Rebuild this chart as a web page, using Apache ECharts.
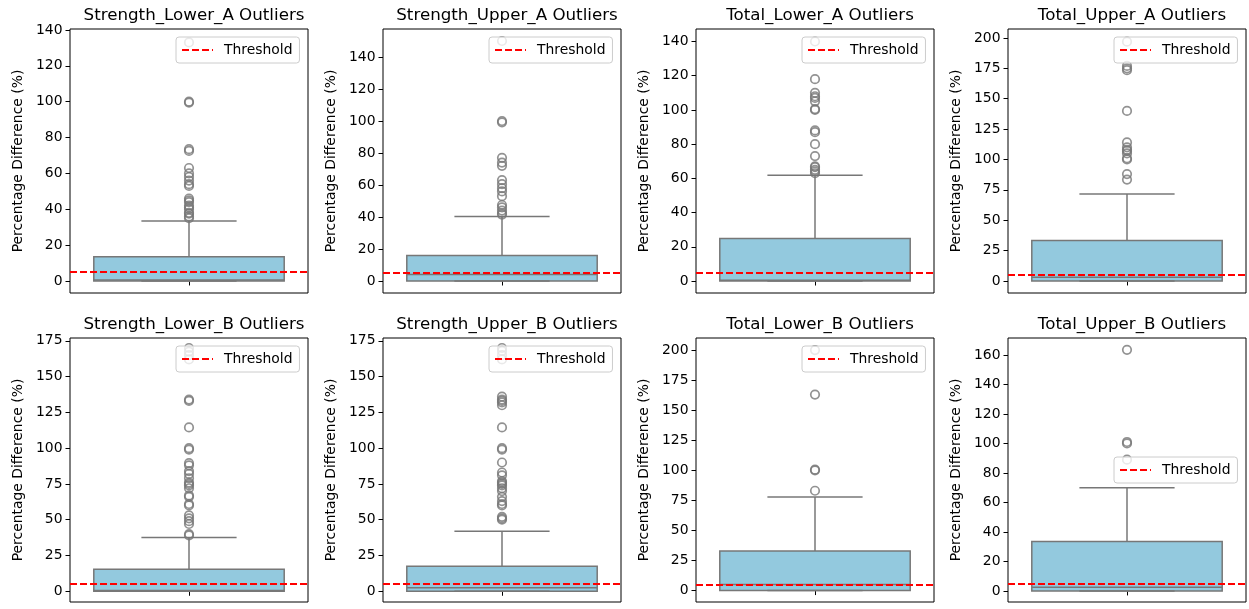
<!DOCTYPE html>
<html>
<head>
<meta charset="utf-8">
<script src="https://cdn.jsdelivr.net/npm/echarts@6/dist/echarts.min.js"></script>
<style>
html,body{margin:0;padding:0;background:#fff;}
#chart{width:1249px;height:609px;}
</style>
</head>
<body>
<div id="chart"></div>
<script>
// ---------------- data ----------------
const titles = [
  'Strength_Lower_A Outliers', 'Strength_Upper_A Outliers', 'Total_Lower_A Outliers', 'Total_Upper_A Outliers',
  'Strength_Lower_B Outliers', 'Strength_Upper_B Outliers', 'Total_Lower_B Outliers', 'Total_Upper_B Outliers'
];
const yAxisTitle = 'Percentage Difference (%)';
const legendLabel = 'Threshold';
const threshold = 5;

// box stats: [lower whisker, q1, median, q3, upper whisker]
const boxSLA = [0, 0, 0.5, 13.5, 33.5];
const boxSUA = [0, 0, 4, 16, 40.3];
const boxTLA = [0, 0, 0.5, 24.8, 61.8];
const boxTUA = [0, 0, 3, 33.4, 71.5];
const boxSLB = [0, 0, 0.5, 15.4, 37.5];
const boxSUB = [0, 0, 2.5, 17.5, 42];
const boxTLB = [0, 0, 5, 33, 77.8];
const boxTUB = [0, 0, 2.5, 33.6, 70];

const outSLA = [35, 36, 37.5, 38, 40, 41, 42, 44, 45, 46, 53, 54, 56, 58, 60, 63, 72.5, 73.5, 99.5, 100, 133];
const outSUA = [41.5, 42.5, 44, 46, 47.5, 53, 56, 58, 60.5, 63, 72, 74, 77, 99.2, 100, 150];
const outTLA = [63, 64, 65, 66.5, 67, 73, 80, 87, 88, 100, 100.5, 105, 107, 108, 110, 118, 140];
const outTUA = [83.5, 88, 100, 101, 105, 107, 108, 110, 114, 140, 173.5, 175, 177, 197];
const outSLB = [39, 40, 47, 49, 51, 53, 60, 61, 66, 67, 72, 74, 75, 76, 79, 82, 84, 88, 89.5, 99, 100, 114.5, 133, 134, 162, 165, 167.5, 170];
const outSUB = [50, 51, 52, 60, 61, 63, 66, 70, 72, 74, 75, 76, 77, 81, 83, 90, 99, 100, 114.5, 130, 132, 133, 134, 136, 162, 165, 168, 170];
const outTLB = [83, 100, 100.5, 163, 200];
const outTUB = [89, 100, 101, 163.5];

const ticks140 = [0, 20, 40, 60, 80, 100, 120, 140];
const ticks200 = [0, 25, 50, 75, 100, 125, 150, 175, 200];
const ticks175 = [0, 25, 50, 75, 100, 125, 150, 175];
const ticks160 = [0, 20, 40, 60, 80, 100, 120, 140, 160];

// axis limits [min, max]
const limSLA = [-6.7, 140.5];
const limSUA = [-7.5, 157.5];
const limTLA = [-7.0, 147.3];
const limTUA = [-9.9, 207.4];
const limSLB = [-7.5, 177];
const limSUB = [-7.5, 177];
const limTLB = [-9.5, 210];
const limTUB = [-7.5, 171.5];

const boxes = [boxSLA, boxSUA, boxTLA, boxTUA, boxSLB, boxSUB, boxTLB, boxTUB];
const outliers = [outSLA, outSUA, outTLA, outTUA, outSLB, outSUB, outTLB, outTUB];
const yTicks = [ticks140, ticks140, ticks140, ticks200, ticks175, ticks175, ticks200, ticks160];
const yLims = [limSLA, limSUA, limTLA, limTUA, limSLB, limSUB, limTLB, limTUB];

// ---------------- layout / style ----------------
const colLeft = [70, 383, 696, 1008];
const rowTop = [29, 338];
const plotW = 238, plotH = 264;
const FONT = 'DejaVu Sans';
const BOXFILL = '#93c9de';
const LINE = '#777777';
const DASH = [7, 3];

const chart = echarts.init(document.getElementById('chart'), null, {renderer: 'canvas'});

const grids = [], xAxes = [], yAxes = [], series = [], titleArr = [], legends = [];

function renderBox(params, api) {
  const xi = api.value(0);
  const low = api.value(1), q1 = api.value(2), med = api.value(3), q3 = api.value(4), high = api.value(5);
  const cx = api.coord([xi, q1])[0];
  const band = api.size([1, 0])[0];
  const bw = band * 0.8, cw = band * 0.4;
  const y = v => api.coord([xi, v])[1];
  const ls = {stroke: LINE, lineWidth: 1.5};
  return {
    type: 'group',
    children: [
      {type: 'line', shape: {x1: cx, y1: y(q3), x2: cx, y2: y(high)}, style: ls},
      {type: 'line', shape: {x1: cx, y1: y(q1), x2: cx, y2: y(low)}, style: ls},
      {type: 'rect', shape: {x: cx - bw / 2, y: y(q3), width: bw, height: y(q1) - y(q3)},
        style: {fill: BOXFILL, stroke: LINE, lineWidth: 1.5}},
      {type: 'line', shape: {x1: cx - cw / 2, y1: y(high), x2: cx + cw / 2, y2: y(high)}, style: ls},
      {type: 'line', shape: {x1: cx - cw / 2, y1: y(low), x2: cx + cw / 2, y2: y(low)}, style: ls},
      {type: 'line', shape: {x1: cx - bw / 2, y1: y(med), x2: cx + bw / 2, y2: y(med)}, style: ls}
    ]
  };
}

for (let i = 0; i < 8; i++) {
  const r = Math.floor(i / 4), c = i % 4;
  const left = colLeft[c], top = rowTop[r];
  grids.push({left: left, top: top, width: plotW, height: plotH, show: true,
    borderColor: '#000', borderWidth: 1, backgroundColor: 'transparent'});
  xAxes.push({
    type: 'category', gridIndex: i, data: [''],
    axisLine: {show: false},
    axisTick: {show: true, alignWithLabel: true, length: 4.5, lineStyle: {color: '#000', width: 1}},
    axisLabel: {show: false}, splitLine: {show: false}
  });
  yAxes.push({
    type: 'value', gridIndex: i, min: yLims[i][0], max: yLims[i][1],
    axisLine: {show: false},
    axisTick: {show: true, length: 4.5, customValues: yTicks[i], lineStyle: {color: '#000', width: 1}},
    axisLabel: {show: true, customValues: yTicks[i], margin: 7.5, fontFamily: FONT, fontSize: 13.9, color: '#000'},
    splitLine: {show: false},
    name: yAxisTitle, nameLocation: 'middle', nameGap: 45,
    nameTextStyle: {fontFamily: FONT, fontSize: 13.9, color: '#000'}
  });
  series.push({
    type: 'custom', xAxisIndex: i, yAxisIndex: i, z: 2,
    renderItem: renderBox,
    encode: {x: 0, y: [1, 2, 3, 4, 5]},
    data: [[0].concat(boxes[i])], silent: true
  });
  series.push({
    type: 'scatter', xAxisIndex: i, yAxisIndex: i, z: 3,
    symbol: 'circle', symbolSize: 8.5,
    itemStyle: {color: 'rgba(0,0,0,0)', borderColor: LINE, borderWidth: 1.7},
    data: outliers[i].map(v => [0, v]), silent: true
  });
  series.push({
    type: 'line', name: legendLabel, xAxisIndex: i, yAxisIndex: i, z: 4,
    symbol: 'none', showSymbol: false,
    lineStyle: {color: '#ff0000', type: DASH, width: 2},
    itemStyle: {color: '#ff0000'},
    data: [],
    markLine: {
      silent: true, symbol: ['none', 'none'], label: {show: false},
      lineStyle: {color: '#ff0000', type: DASH, width: 2},
      emphasis: {disabled: true},
      data: [{yAxis: threshold}]
    }
  });
  titleArr.push({
    text: titles[i], left: left + plotW / 2, top: top - 27, textAlign: 'center',
    textStyle: {fontFamily: FONT, fontSize: 16.7, fontWeight: 'normal', color: '#000'}
  });
  const legTop = (i === 7) ? 457 : top + 8;
  legends.push({
    data: [legendLabel], left: left + plotW - 132, top: legTop,
    orient: 'vertical', selectedMode: false,
    backgroundColor: 'rgba(255,255,255,0.8)', borderColor: '#cccccc', borderWidth: 1, borderRadius: 3,
    padding: [6, 7, 6, 5], itemWidth: 31, itemHeight: 14,
    itemStyle: {opacity: 0},
    textStyle: {fontFamily: FONT, fontSize: 13.9, color: '#000', padding: [0, 0, 0, 6]}
  });
}

chart.setOption({
  animation: false,
  backgroundColor: '#fff',
  title: titleArr,
  legend: legends,
  grid: grids,
  xAxis: xAxes,
  yAxis: yAxes,
  series: series
});
</script>
</body>
</html>
